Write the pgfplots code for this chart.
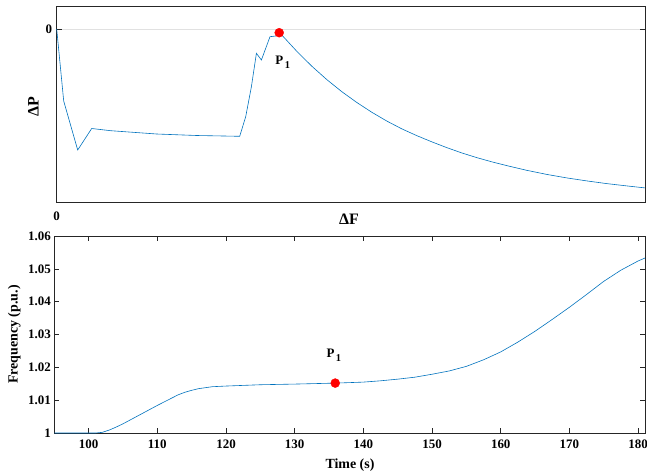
\documentclass[border=0pt]{standalone}
\usepackage{pgfplots}
\pgfplotsset{compat=1.18}
\usepackage{fontspec}
\setmainfont{Liberation Serif}
\definecolor{mblue}{RGB}{0,114,189}
\definecolor{axgray}{RGB}{38,38,38}
\definecolor{gridgray}{RGB}{225,225,225}
\newcommand{\Pone}{P\kern1.5bp\raisebox{-4bp}{\fontsize{10.5}{11}\selectfont 1}}
\begin{document}
\begin{tikzpicture}
\useasboundingbox (0bp,0bp) rectangle (647bp,-474bp);
\pgfplotsset{
  every axis/.append style={
    scale only axis,
    axis line style={axgray, line width=0.6pt},
    every tick/.style={axgray, line width=0.6pt},
    tick align=inside,
    major tick length=5bp,
    tick label style={font=\fontsize{13}{14}\selectfont\bfseries, text=black},
    label style={font=\fontsize{14}{16}\selectfont\bfseries},
    /pgf/number format/assume math mode=true,
  }
}
% top axis
\begin{axis}[
  at={(56.7bp,-6bp)}, anchor=north west,
  width=588.3bp, height=196bp,
  xmin=0, xmax=588.3, ymin=-173, ymax=23,
  xtick={0}, ytick={0},
  ymajorgrids, grid style={gridgray, line width=0.6pt},
  xticklabel style={yshift=-6bp},
  yticklabel style={xshift=-1bp},
  xlabel={\fontsize{16}{18}\selectfont ΔF},
  ylabel={\fontsize{16}{18}\selectfont ΔP},
  xlabel style={at={(axis description cs:0.497,0)}, anchor=center, yshift=-17bp},
  ylabel style={at={(axis description cs:0,0.485)}, anchor=center, yshift=23.4bp},
  clip=false,
]
\addplot[mblue, line width=0.6pt] coordinates {
(0,0) (7,-72) (21,-121) (35,-99.5) (54,-101.7) (100,-105) (140,-106.5) (183,-107.3)
(189,-87.7) (194.7,-57.7) (199.7,-24.3) (204.7,-31) (213.3,-7.7) (219,-7) (222.5,-4.5)
(226,-7) (240,-22.2) (255,-37.1) (270,-50.5) (285,-62.6) (300,-73.4) (315,-83.2)
(330,-92.0) (345,-99.8) (360,-106.6) (375,-112.8) (390,-118.6) (405,-123.9) (420,-128.6)
(435,-132.8) (450,-136.6) (470,-141.3) (490,-145.4) (510,-148.9) (530,-151.9)
(550,-154.6) (570,-156.9) (588.3,-158.9)
};
\addplot[only marks, mark=*, mark size=4.5bp, red, mark options={draw=red, fill=red}] coordinates {(222.5,-3.7)};
\node[font=\fontsize{13}{14}\selectfont\bfseries, anchor=center] at (axis cs:226,-33) {\Pone};
\end{axis}
% bottom axis
\begin{axis}[
  at={(54.3bp,-236bp)}, anchor=north west,
  width=590.7bp, height=197bp,
  xmin=95, xmax=181, ymin=1, ymax=1.06,
  xtick={100,110,...,180},
  ytick={1,1.01,1.02,1.03,1.04,1.05,1.06},
  yticklabels={1,1.01,1.02,1.03,1.04,1.05,1.06},
  xticklabel style={yshift=-3bp},
  xlabel={Time (s)},
  ylabel={Frequency (p.u.)},
  xlabel style={at={(axis description cs:0.5006,0)}, anchor=center, yshift=-32bp},
  ylabel style={at={(axis description cs:0,0.5)}, anchor=center, yshift=40bp},
  clip=false,
]
\addplot[mblue, line width=0.6pt] coordinates {
(95,1.0) (100,1.0) (101,1.0) (102,1.0002) (103,1.0009) (104,1.0018) (105,1.0028)
(110,1.0084) (113,1.0116) (114,1.0124) (115,1.0130) (116,1.0135) (117,1.0138) (118,1.0141)
(120,1.0143) (125,1.0147) (130,1.0149) (136,1.0152) (140,1.0155) (142.5,1.0159)
(145,1.0164) (147.5,1.0170) (150,1.0179) (152.5,1.0189) (155,1.0203) (157.5,1.0223)
(160,1.0247) (162.5,1.0277) (165,1.0310) (167.5,1.0346) (170,1.0383) (172.5,1.0422)
(175,1.0462) (177.5,1.0496) (180,1.0524) (181,1.0533)
};
\addplot[only marks, mark=*, mark size=4.5bp, red, mark options={draw=red, fill=red}] coordinates {(135.9,1.0152)};
\node[font=\fontsize{13}{14}\selectfont\bfseries, anchor=center] at (axis cs:135.7,1.0238) {\Pone};
\end{axis}
\end{tikzpicture}
\end{document}
